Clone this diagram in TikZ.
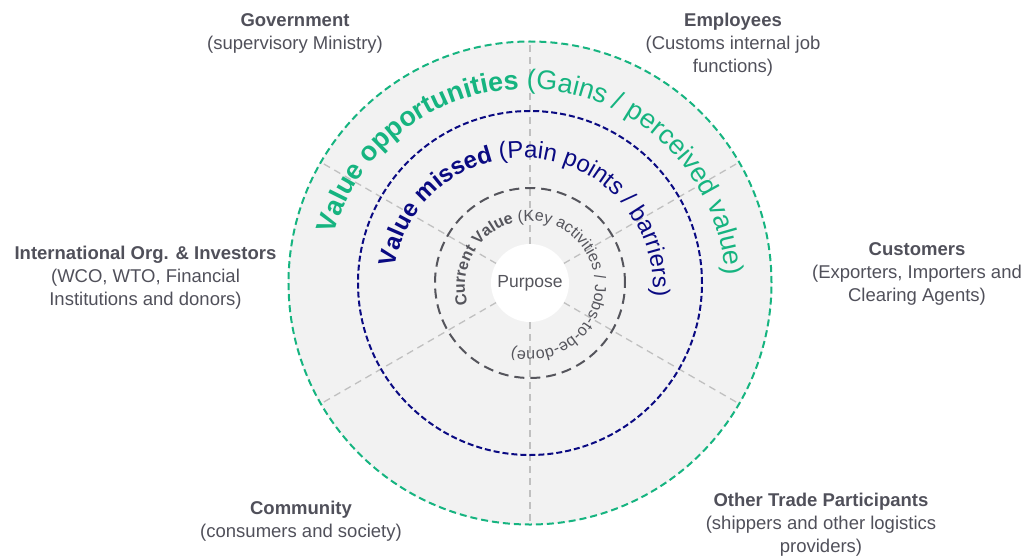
\documentclass[tikz,border=0pt]{standalone}
\usepackage{fontspec}
\setmainfont{Liberation Sans}
\usetikzlibrary{decorations.text}
\definecolor{labelgray}{RGB}{80,80,90}
\definecolor{ringgreen}{RGB}{22,180,128}
\definecolor{ringblue}{RGB}{10,10,130}
\definecolor{ringgray}{RGB}{85,85,92}
\definecolor{spokegray}{RGB}{192,192,192}
\definecolor{discfill}{RGB}{242,242,242}
\newcommand\greenbold{\fontsize{27}{27}\selectfont\bfseries\color{ringgreen}}
\newcommand\greenreg{\fontsize{27}{27}\selectfont\mdseries\color{ringgreen}}
\newcommand\bluebold{\fontsize{24}{24}\selectfont\bfseries\color{ringblue}}
\newcommand\bluereg{\fontsize{24}{24}\selectfont\mdseries\color{ringblue}}
\newcommand\graybold{\fontsize{16}{16}\selectfont\bfseries\color{ringgray}}
\newcommand\grayreg{\fontsize{16}{16}\selectfont\mdseries\color{ringgray}}
\tikzset{
  stakeholder/.style={align=center, text=labelgray, inner sep=0pt,
    font=\fontsize{18.5}{23}\selectfont},
  spoke/.style={spokegray, line width=1.3pt, dash pattern=on 7pt off 5pt},
}

\begin{document}
\begin{tikzpicture}[x=1pt,y=1pt]
\useasboundingbox (-530,-274) rectangle (502,283);
\fill[discfill] (0,0) circle (242);
\foreach \a in {30,90,...,330}
  \draw[spoke] (\a:39) -- (\a:242);
\fill[white] (0,0) circle (39);
\draw[ringgray, line width=2pt, dash pattern=on 10pt off 6pt] (0,0) circle (95);
\draw[ringblue, line width=2pt, dash pattern=on 6pt off 3pt] (0,0) circle (172);
\draw[ringgreen, line width=2pt, dash pattern=on 7pt off 4pt] (0,0) circle (241.5);

% ring captions
\path[decorate, decoration={text along path, text align=center,
  text={|\greenbold|Value opportunities |\greenreg|(Gains / perceived value)}}]
  (-4,-6) ++(264:200) arc (264:-96:200);
\path[decorate, decoration={text along path, text align=center,
  text={|\bluebold|Value missed |\bluereg|(Pain points / barriers)}}]
  (-7,-5) ++(263.5:130) arc (263.5:-96.5:130);
\path[decorate, decoration={text along path, text align=center,
  text={|\graybold|Current Value |\grayreg|(Key activities / Jobs-to-be-done)}}]
  (0,-3) ++(225.5:65) arc (225.5:-134.5:65);
\node[text=ringgray, inner sep=0pt, font=\fontsize{17.5}{20}\selectfont] (purpose) at (0,0) {Purpose};

% stakeholders
\node[stakeholder] (gov) at (-235,250) {\textbf{Government}\\(supervisory Ministry)};
\node[stakeholder] (emp) at (203,238.5) {\textbf{Employees}\\(Customs internal job\\functions)};
\node[stakeholder] (intl) at (-384.5,5) {\textbf{International Org. \& Investors}\\(WCO, WTO, Financial\\Institutions and donors)};
\node[stakeholder] (cust) at (387,9) {\textbf{Customers}\\(Exporters, Importers and\\Clearing Agents)};
\node[stakeholder] (comm) at (-229,-238.5) {\textbf{Community}\\(consumers and society)};
\node[stakeholder] (trade) at (291,-241.5) {\textbf{Other Trade Participants}\\(shippers and other logistics\\providers)};
\end{tikzpicture}
\end{document}
